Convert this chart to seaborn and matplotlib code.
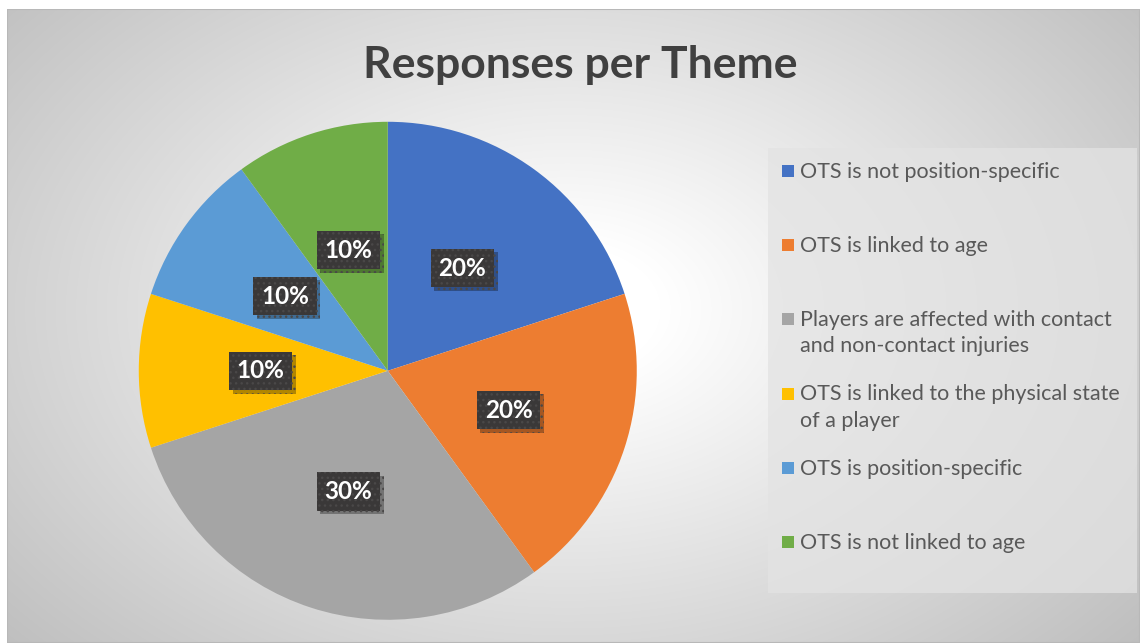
import numpy as np
import matplotlib
matplotlib.use("Agg")
import matplotlib.pyplot as plt
import matplotlib.patheffects as pe
from matplotlib.patches import Rectangle
import seaborn as sns

# Survey themes and their share of responses (percent)
themes = [
    "OTS is not position-specific",
    "OTS is linked to age",
    "Players are affected with contact\nand non-contact injuries",
    "OTS is linked to the physical state\nof a player",
    "OTS is position-specific",
    "OTS is not linked to age",
]
shares = [20, 20, 30, 10, 10, 10]
slice_colors = ["#4472C4", "#ED7D31", "#A5A5A5", "#FFC000", "#5B9BD5", "#70AD47"]
chart_title = "Responses per Theme"

sns.set_theme(style="white")
plt.rcParams["font.family"] = ["Lato", "DejaVu Sans"]

W, H = 1141, 643
fig = plt.figure(figsize=(W / 100, H / 100), dpi=100)
fig.patch.set_facecolor("white")


def fx(px):
    return px / W


def fy(py):
    return 1 - py / H


# Radial gradient backdrop of the chart area
bg = fig.add_axes([fx(7), 0, (W - 8) / W, (H - 9) / H])
bg.set_axis_off()
yy, xx = np.mgrid[0:H - 9, 0:W - 8]
cx, cy = 560.0, 300.0
d = np.sqrt(((xx - cx) / 620.0) ** 2 + ((yy - cy) / 420.0) ** 2)
shade = 1.0 - 0.25 * np.clip(d - 0.15, 0, None) / 1.05
shade = np.clip(shade, 0.74, 1.0)
bg.imshow(np.dstack([shade] * 3), aspect="auto", interpolation="bilinear")
bg.add_patch(Rectangle((0, 0), 1, 1, transform=bg.transAxes, fill=False,
                       edgecolor="#b8b8b8", linewidth=1.5))

# Legend panel
fig.patches.append(Rectangle((fx(768), fy(593)), (1137 - 768) / W, (593 - 148) / H,
                             transform=fig.transFigure, facecolor="#e3e3e3",
                             edgecolor="none", alpha=0.75, zorder=1))

# Pie
ax = fig.add_axes([0.1216, 0.0361, 0.4365, 0.7745])
wedges, texts, autotexts = ax.pie(
    shares, colors=slice_colors, startangle=90, counterclock=False,
    autopct=lambda p: f"{p:.0f}%", pctdistance=0.51, radius=1.0,
    wedgeprops=dict(linewidth=0),
    textprops=dict(color="white", fontsize=17.5, fontweight="bold"),
)
ax.set_xlim(-1, 1)
ax.set_ylim(-1, 1)
ax.set_aspect("equal")
ax.set_axis_off()

for t in autotexts:
    t.set_bbox(dict(boxstyle="square,pad=0.32", facecolor="#3a3838",
                    edgecolor="#4a4848", linewidth=0, hatch="..."))
    t.get_bbox_patch().set_path_effects(
        [pe.SimplePatchShadow(offset=(2.5, -2.5), shadow_rgbFace="black", alpha=0.3),
         pe.Normal()])

fig.text(fx(580), fy(78), chart_title, ha="center", va="baseline",
         fontsize=32, fontweight="bold", color="#404040")

# Legend entries: one row every 74 px, wrapped labels run downwards
step = 74.2
line_gap = 26
for i, (label, color) in enumerate(zip(themes, slice_colors)):
    base = 178 + i * step
    fig.patches.append(Rectangle((fx(782), fy(base - 1)), 12 / W, 12 / H,
                                 transform=fig.transFigure, facecolor=color,
                                 edgecolor="none", zorder=3))
    last_base = base + label.count("\n") * line_gap
    fig.text(fx(800), fy(last_base), label, ha="left", va="baseline",
             fontsize=15.5, color="#595959", linespacing=1.39, zorder=3)

fig.savefig("out.png", dpi=100)
